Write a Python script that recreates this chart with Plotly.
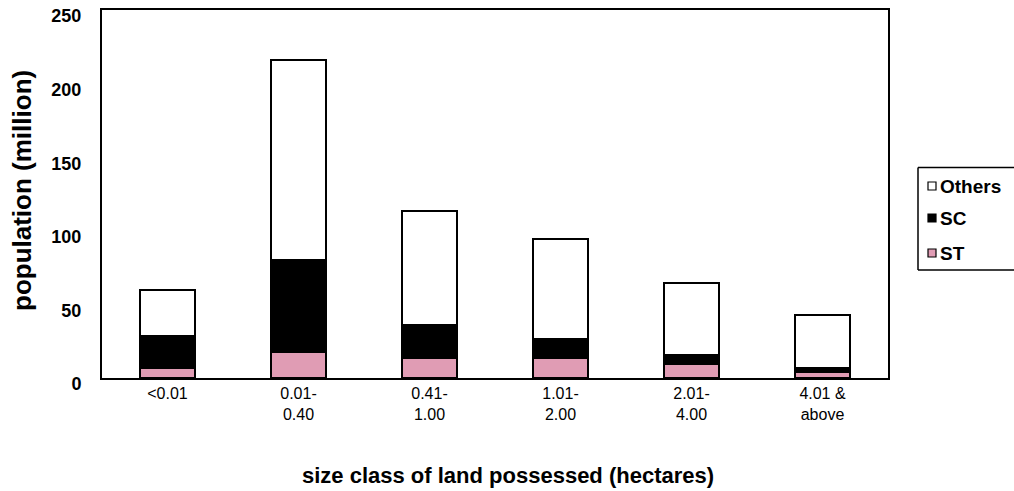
import plotly.graph_objects as go

categories = ["<0.01", "0.01-<br>0.40", "0.41-<br>1.00", "1.01-<br>2.00", "2.01-<br>4.00", "4.01 &<br>above"]
st_values = [6.6, 17.3, 13.4, 13.4, 9.6, 3.9]
sc_values = [21.6, 62.6, 22.6, 13.2, 5.9, 3.1]
others_values = [31.9, 135.9, 77.4, 67.7, 48.9, 35.6]
y_ticks = [0, 50, 100, 150, 200, 250]

series_names = ["ST", "SC", "Others"]
series_colors = ["#e09cb4", "black", "white"]

FONT = "Liberation Sans, Arial, sans-serif"

# plot-area geometry in page pixels
W, H = 1014, 491
PL, PR, PT, PB = 102, 888, 10, 378
PW, PH = PR - PL, PB - PT


def px_x(p):
    return (p - PL) / PW


def px_y(p):
    return (PB - p) / PH


fig = go.Figure()
for name, vals, col, lw in zip(series_names, [st_values, sc_values, others_values],
                               series_colors, [1.5, 1.5, 2]):
    fig.add_trace(go.Bar(name=name, x=categories, y=vals, showlegend=False,
                         marker=dict(color=col, line=dict(color="black", width=lw))))

# manual legend (box open on the right edge, swatches, labels)
box_l, box_r, box_t, box_b = 918, 1040, 167.5, 270
line_style = dict(color="black", width=1.5)
shapes = [
    dict(type="line", xref="paper", yref="paper", x0=px_x(box_l), x1=px_x(box_l),
         y0=px_y(box_b), y1=px_y(box_t), line=line_style, layer="above"),
    dict(type="line", xref="paper", yref="paper", x0=px_x(box_l), x1=px_x(box_r),
         y0=px_y(box_t), y1=px_y(box_t), line=line_style, layer="above"),
    dict(type="line", xref="paper", yref="paper", x0=px_x(box_l), x1=px_x(box_r),
         y0=px_y(box_b), y1=px_y(box_b), line=line_style, layer="above"),
]
annotations = []
legend_rows = [("Others", "white", 186), ("SC", "black", 218), ("ST", "#e09cb4", 253)]
for label, col, cy in legend_rows:
    shapes.append(dict(type="rect", xref="paper", yref="paper",
                       x0=px_x(928), x1=px_x(936), y0=px_y(cy + 4), y1=px_y(cy - 4),
                       line=dict(color="black", width=1.2), fillcolor=col, layer="above"))
    annotations.append(dict(text=label, xref="paper", yref="paper", x=px_x(938), y=px_y(cy),
                            xanchor="left", yanchor="middle", showarrow=False,
                            font=dict(size=19, family=FONT, weight="bold")))

annotations += [
    dict(text="size class of land possessed (hectares)", xref="paper", yref="paper",
         x=px_x(508), y=px_y(475), yanchor="middle", xanchor="center", showarrow=False,
         font=dict(size=22, family=FONT, weight="bold")),
    dict(text="population (million)", xref="paper", yref="paper",
         x=px_x(22), y=px_y(191), textangle=-90, xanchor="center", yanchor="middle",
         showarrow=False, font=dict(size=26, family=FONT, weight="bold")),
]

fig.update_layout(
    barmode="stack",
    bargap=0.58,
    width=W, height=H,
    margin=dict(l=PL, r=W - PR, t=PT, b=H - PB, autoexpand=False),
    paper_bgcolor="white", plot_bgcolor="white",
    font=dict(family=FONT, color="black"),
    showlegend=False,
    xaxis=dict(
        showline=True, linecolor="black", linewidth=2, mirror=True,
        ticks="", tickfont=dict(size=16, family=FONT),
        showgrid=False, automargin=False,
    ),
    yaxis=dict(
        range=[0, 250], tickvals=y_ticks,
        showline=True, linecolor="black", linewidth=2, mirror=True,
        ticks="", tickfont=dict(size=18, family=FONT, weight="bold"),
        showgrid=False, zeroline=False, ticklabelstandoff=15, automargin=False,
        ticklabeloverflow="allow", ticklabelshift=6,
    ),
    shapes=shapes,
    annotations=annotations,
)

fig.write_html(
    "out.html",
    config={"displayModeBar": False},
    post_script="document.body.style.margin='0';document.body.style.overflow='hidden';",
)
